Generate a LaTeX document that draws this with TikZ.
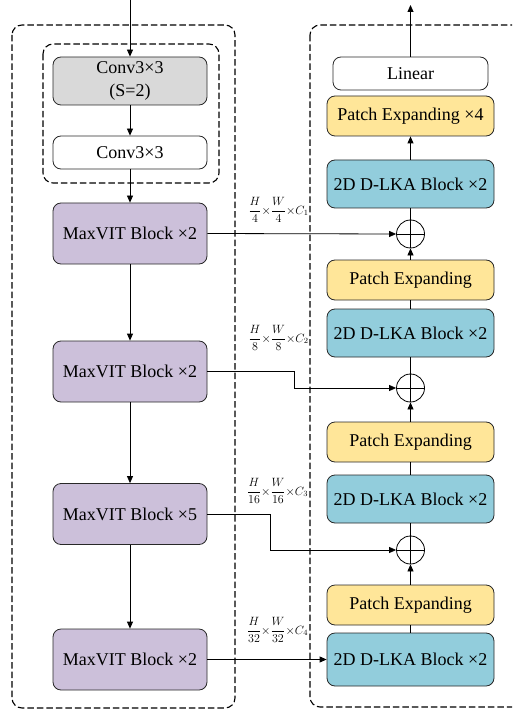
\documentclass[tikz,border=0pt]{standalone}
\usepackage{fontspec}
\setmainfont{Liberation Serif}
\usetikzlibrary{arrows.meta}
\definecolor{convgray}{RGB}{217,217,217}
\definecolor{maxvit}{RGB}{204,192,218}
\definecolor{dlka}{RGB}{146,205,220}
\definecolor{patchexp}{RGB}{255,230,153}
\definecolor{edge}{RGB}{40,40,40}
\begin{document}
\begin{tikzpicture}[x=1pt,y=-1pt,
  blk/.style={draw=edge, line width=0.8pt, rounded corners=8pt, align=center,
    inner sep=0pt, font=\fontsize{18}{23}\selectfont},
  encblk/.style={blk, fill=maxvit, minimum width=154pt, minimum height=61pt},
  decblk/.style={blk, fill=dlka, minimum width=167pt, minimum height=48pt},
  pexp/.style={blk, fill=patchexp, minimum width=167pt, minimum height=40pt},
  grp/.style={draw=black, line width=1.1pt, dash pattern=on 6.5pt off 3pt, rounded corners=10pt},
  arr/.style={draw=black, line width=0.8pt, -{Triangle[length=7pt,width=6pt]}},
  ln/.style={draw=black, line width=0.8pt},
  addop/.style={draw=black, circle, line width=0.8pt, minimum size=28pt, inner sep=0pt,
    path picture={\draw[line width=0.8pt]
      (path picture bounding box.north) -- (path picture bounding box.south)
      (path picture bounding box.west) -- (path picture bounding box.east);}},
  dimlbl/.style={font=\fontsize{11.5}{13}\selectfont, inner sep=0pt}
]
\useasboundingbox (0,0) rectangle (512,711);
\clip (0,0) rectangle (512,711);

% dashed groups: encoder, stem, decoder
\draw[grp] (12,25) rectangle (235,708);
\draw[grp] (43,44) rectangle (219,183);
\draw[grp] (310,25) rectangle (560,707);

% encoder
\node[blk, fill=convgray, minimum width=154pt, minimum height=48pt] (conv1) at (130,81) {Conv3×3\\(S=2)};
\node[blk, fill=white, minimum width=154pt, minimum height=33pt] (conv2) at (130,152.5) {Conv3×3};
\node[encblk] (mv1) at (130,233.5) {MaxVIT Block ×2};
\node[encblk] (mv2) at (130,371.5) {MaxVIT Block ×2};
\node[encblk] (mv3) at (130,514) {MaxVIT Block ×5};
\node[encblk] (mv4) at (130,659.5) {MaxVIT Block ×2};

% decoder
\node[blk, fill=white, minimum width=155pt, minimum height=33pt] (lin) at (410.5,73.5) {Linear};
\node[pexp] (pe0) at (410.5,116) {Patch Expanding ×4};
\node[decblk] (dk1) at (410.5,184) {2D D-LKA Block ×2};
\node[addop] (c1) at (410.5,234) {};
\node[pexp] (pe1) at (410.5,280) {Patch Expanding};
\node[decblk] (dk2) at (410.5,333) {2D D-LKA Block ×2};
\node[addop] (c2) at (410.5,388) {};
\node[pexp] (pe2) at (410.5,442) {Patch Expanding};
\node[decblk] (dk3) at (410.5,499) {2D D-LKA Block ×2};
\node[addop] (c3) at (410.5,550) {};
\node[pexp] (pe3) at (410.5,605) {Patch Expanding};
\node[decblk, minimum height=53pt] (dk4) at (410.5,659.5) {2D D-LKA Block ×2};

% input / output ends
\coordinate (in) at (130,0);
\coordinate (out) at (410.5,5);

% encoder flow
\draw[arr] (in) -- (conv1.north);
\draw[arr] (conv1) -- (conv2);
\draw[arr] (conv2) -- (mv1);
\draw[arr] (mv1) -- (mv2);
\draw[arr] (mv2) -- (mv3);
\draw[arr] (mv3) -- (mv4);

% decoder flow (upwards)
\draw[ln] (dk4) -- (pe3);
\draw[arr] (pe3) -- (c3);
\draw[ln] (c3) -- (dk3);
\draw[ln] (dk3) -- (pe2);
\draw[arr] (pe2) -- (c2);
\draw[ln] (c2) -- (dk2);
\draw[ln] (dk2) -- (pe1);
\draw[arr] (pe1) -- (c1);
\draw[ln] (c1) -- (dk1);
\draw[arr] (dk1) -- (pe0);
\draw[arr] (lin.north) -- (out);

% skip connections
\draw[arr] (mv1.east) -- (c1.west);
\draw[arr] (mv2.east) -- ++(87,0) |- (c2.west);
\draw[arr] (mv3.east) -- ++(63,0) |- (c3.west);
\draw[arr] (mv4.east) -- (dk4.west);

% feature sizes
\node[dimlbl] (d1) at (278.5,210) {$\displaystyle\frac{H}{4}{\times}\frac{W}{4}{\times}C_1$};
\node[dimlbl] (d2) at (278.5,338) {$\displaystyle\frac{H}{8}{\times}\frac{W}{8}{\times}C_2$};
\node[dimlbl] (d3) at (277.5,491) {$\displaystyle\frac{H}{16}{\times}\frac{W}{16}{\times}C_3$};
\node[dimlbl] (d4) at (277.5,630) {$\displaystyle\frac{H}{32}{\times}\frac{W}{32}{\times}C_4$};
\end{tikzpicture}
\end{document}
